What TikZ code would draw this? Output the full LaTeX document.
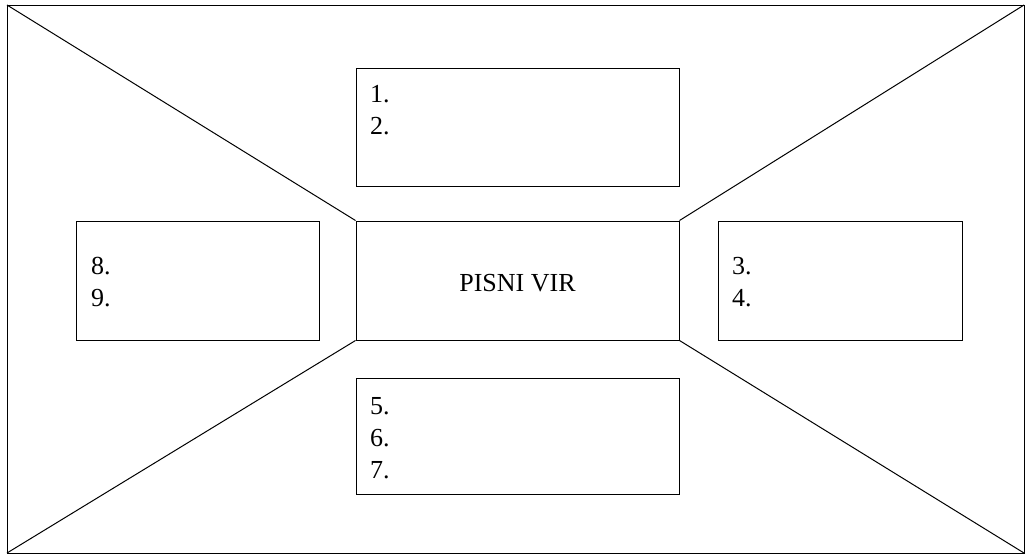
\documentclass[tikz,border=0pt]{standalone}
\usepackage{fontspec}
\setmainfont{Liberation Serif}
\begin{document}
\begin{tikzpicture}[x=1pt,y=-1pt,
  box/.style={draw,line width=1pt,rectangle,inner sep=0pt},
  lbl/.style={anchor=base west,inner sep=0pt,font=\fontsize{26}{32}\selectfont},
  edge/.style={line width=1pt}]
\useasboundingbox (0,0) rectangle (1027,555);
% outer frame
\coordinate (onw) at (7,5);
\coordinate (one) at (1024,5);
\coordinate (osw) at (7,553);
\coordinate (ose) at (1024,553);
\draw[edge] (onw) rectangle (ose);
% boxes
\node[box,minimum width=323pt,minimum height=119pt] (c) at (517.5,280.5) {};
\node[box,minimum width=323pt,minimum height=118pt] (t) at (517.5,127) {};
\node[box,minimum width=323pt,minimum height=116pt] (b) at (517.5,436) {};
\node[box,minimum width=243pt,minimum height=119pt] (l) at (197.5,280.5) {};
\node[box,minimum width=244pt,minimum height=119pt] (r) at (840,280.5) {};
% diagonals
\draw[edge] (onw) -- (c.north west);
\draw[edge] (one) -- (c.north east);
\draw[edge] (osw) -- (c.south west);
\draw[edge] (ose) -- (c.south east);
% texts
\node[font=\fontsize{26}{32}\selectfont,anchor=base,inner sep=0pt] (ctext) at (517.5,291) {PISNI VIR};
\node[lbl] (t1) at (370,102) {1.};
\node[lbl] (t2) at (370,134) {2.};
\node[lbl] (r3) at (732,274) {3.};
\node[lbl] (r4) at (732,306) {4.};
\node[lbl] (b5) at (370,414) {5.};
\node[lbl] (b6) at (370,446) {6.};
\node[lbl] (b7) at (370,478) {7.};
\node[lbl] (l8) at (91,274) {8.};
\node[lbl] (l9) at (91,306) {9.};
\end{tikzpicture}
\end{document}
